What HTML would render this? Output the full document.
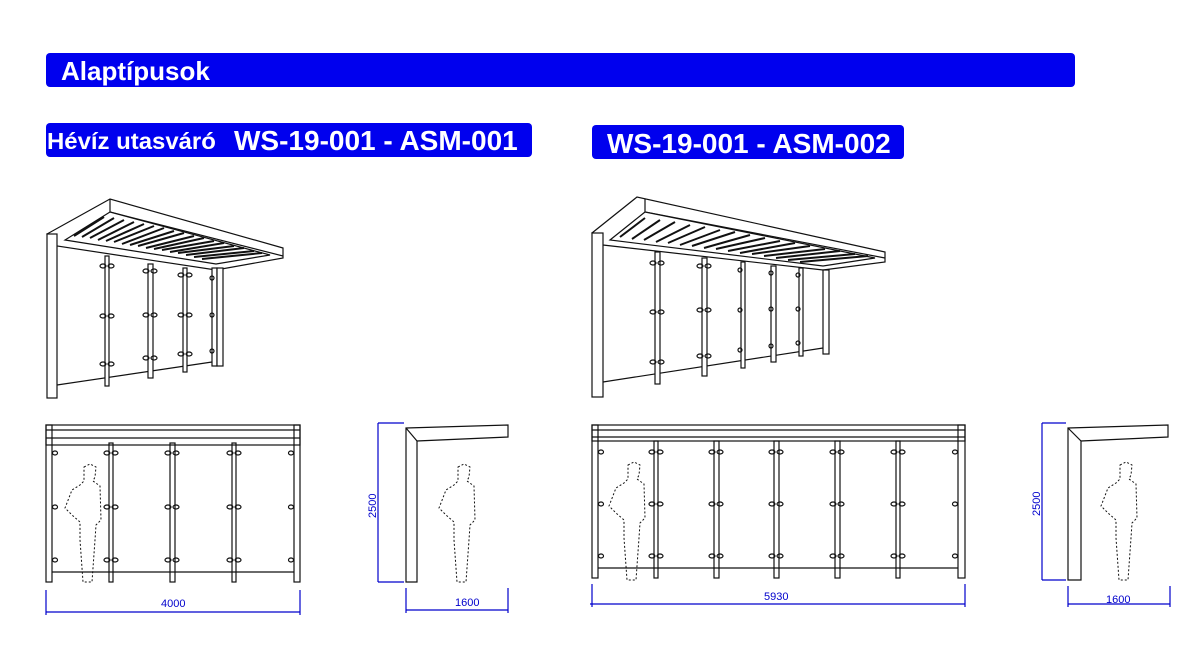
<!DOCTYPE html>
<html><head><meta charset="utf-8"><style>
body{margin:0;background:#fff;width:1198px;height:655px;overflow:hidden;font-family:"Liberation Sans",Arial,sans-serif}
.b{position:absolute;background:#0000ee;color:#fff;font-weight:bold;border-radius:4px;white-space:nowrap}
</style></head><body>
<div class="b" style="left:46px;top:53px;width:1029px;height:34px;font-size:26px;line-height:36px;padding-left:15px;box-sizing:border-box">Alaptípusok</div>
<div class="b" style="left:46px;top:123px;width:486px;height:34px"></div>
<div class="b" style="left:47px;top:123px;font-size:23px;line-height:37px;background:none;transform:scaleX(1.04);transform-origin:left">Hévíz utasváró</div>
<div class="b" style="left:234px;top:122px;font-size:28px;line-height:38px;background:none">WS-19-001 - ASM-001</div>
<div class="b" style="left:592px;top:125px;width:312px;height:34px;font-size:28px;line-height:37px;padding-left:15px;box-sizing:border-box">WS-19-001 - ASM-002</div>
<svg width="1198" height="655" style="position:absolute;left:0;top:0" fill="none" stroke="#111" stroke-width="1.2">
<defs>
<path id="fig" d="M84,467 L90,464 L96,467 L95,477 L93,481 L100,486 L101,520 L96,525 L95,540 L92,582 L83,582 L80,540 L80,522 L72,515 L65,508 L72,490 L80,485 L84,481 Z" stroke-dasharray="2,2" stroke-width="1"/>
<g id="bolt"><ellipse cx="-4" cy="0" rx="3" ry="2"/><ellipse cx="4" cy="0" rx="3" ry="2"/></g>
</defs>
<g>
<polygon points="110,199 47,234 57,246 216,270 283,258 283,248 110,199" fill="#fff"/>
<line x1="110" y1="199" x2="110" y2="212"/><line x1="110" y1="212" x2="283" y2="256"/>
<polygon points="110,212 65,240 216,264 270,255" fill="#fff"/>
<g stroke-width="2">
<line x1="74" y1="236" x2="104" y2="217"/><line x1="82" y1="237" x2="114" y2="218"/><line x1="90" y1="238" x2="124" y2="220"/><line x1="98" y1="240" x2="134" y2="222"/><line x1="106" y1="241" x2="144" y2="224"/><line x1="114" y1="242" x2="154" y2="226"/><line x1="122" y1="244" x2="164" y2="228"/><line x1="130" y1="245" x2="174" y2="231"/><line x1="138" y1="246" x2="184" y2="233"/><line x1="146" y1="248" x2="194" y2="236"/><line x1="154" y1="249" x2="204" y2="238"/><line x1="162" y1="250" x2="214" y2="241"/><line x1="170" y1="252" x2="224" y2="243"/><line x1="178" y1="253" x2="234" y2="246"/><line x1="186" y1="255" x2="244" y2="248"/><line x1="194" y1="257" x2="254" y2="251"/><line x1="202" y1="259" x2="262" y2="253"/>
</g>
<rect x="47" y="234" width="10" height="164" fill="#fff"/>
<line x1="57" y1="385" x2="212" y2="362"/>
<rect x="105" y="256" width="4" height="130" fill="#fff"/><rect x="148" y="264" width="5" height="114" fill="#fff"/><rect x="183" y="268" width="4" height="104" fill="#fff"/><rect x="212" y="268" width="5" height="98" fill="#fff"/>
<rect x="217" y="268" width="6" height="98" fill="#fff"/>
<use href="#bolt" x="107" y="266"/><use href="#bolt" x="107" y="316"/><use href="#bolt" x="107" y="364"/>
<use href="#bolt" x="150" y="271"/><use href="#bolt" x="150" y="315"/><use href="#bolt" x="150" y="358"/>
<use href="#bolt" x="185" y="275"/><use href="#bolt" x="185" y="315"/><use href="#bolt" x="185" y="354"/>
<ellipse cx="212" cy="278" rx="2" ry="2"/><ellipse cx="212" cy="315" rx="2" ry="2"/><ellipse cx="212" cy="351" rx="2" ry="2"/>
</g>
<g>
<polygon points="637,197 592,233 603,245 823,270 885,262 885,252 637,197" fill="#fff"/>
<line x1="645" y1="199" x2="645" y2="212"/><line x1="645" y1="212" x2="885" y2="258"/>
<polygon points="645,212 610,240 823,266 875,258" fill="#fff"/>
<g stroke-width="2">
<line x1="620" y1="237" x2="645" y2="218"/><line x1="632" y1="239" x2="660" y2="220"/><line x1="644" y1="240" x2="675" y2="222"/><line x1="656" y1="242" x2="690" y2="225"/><line x1="668" y1="243" x2="705" y2="227"/><line x1="680" y1="245" x2="720" y2="230"/><line x1="692" y1="246" x2="735" y2="232"/><line x1="704" y1="248" x2="750" y2="235"/><line x1="716" y1="249" x2="765" y2="238"/><line x1="728" y1="251" x2="780" y2="241"/><line x1="740" y1="253" x2="795" y2="243"/><line x1="752" y1="254" x2="810" y2="246"/><line x1="764" y1="256" x2="825" y2="249"/><line x1="776" y1="258" x2="840" y2="251"/><line x1="788" y1="260" x2="855" y2="254"/><line x1="800" y1="262" x2="868" y2="256"/>
</g>
<rect x="592" y="233" width="11" height="164" fill="#fff"/>
<line x1="603" y1="382" x2="823" y2="348"/>
<rect x="655" y="252" width="5" height="132" fill="#fff"/><rect x="702" y="258" width="5" height="118" fill="#fff"/><rect x="741" y="262" width="4" height="106" fill="#fff"/><rect x="771" y="266" width="5" height="96" fill="#fff"/><rect x="799" y="268" width="4" height="88" fill="#fff"/><rect x="823" y="270" width="6" height="84" fill="#fff"/>
<use href="#bolt" x="657" y="263"/><use href="#bolt" x="657" y="312"/><use href="#bolt" x="657" y="362"/>
<use href="#bolt" x="704" y="266"/><use href="#bolt" x="704" y="310"/><use href="#bolt" x="704" y="356"/>
<ellipse cx="740" cy="270" rx="2" ry="2"/><ellipse cx="740" cy="310" rx="2" ry="2"/><ellipse cx="740" cy="350" rx="2" ry="2"/>
<ellipse cx="771" cy="273" rx="2" ry="2"/><ellipse cx="771" cy="309" rx="2" ry="2"/><ellipse cx="771" cy="346" rx="2" ry="2"/>
<ellipse cx="798" cy="275" rx="2" ry="2"/><ellipse cx="798" cy="309" rx="2" ry="2"/><ellipse cx="798" cy="343" rx="2" ry="2"/>
</g>
<g>
<rect x="46" y="425" width="254" height="20"/><line x1="46" y1="430" x2="300" y2="430"/><line x1="46" y1="438" x2="300" y2="438"/>
<rect x="46" y="425" width="6" height="157"/><rect x="294" y="425" width="6" height="157"/>
<rect x="109" y="443" width="4" height="139"/><rect x="170" y="443" width="5" height="139"/><rect x="232" y="443" width="4" height="139"/>
<line x1="52" y1="572" x2="294" y2="572"/>
<g><use href="#bolt" x="111" y="453"/><use href="#bolt" x="111" y="507"/><use href="#bolt" x="111" y="560"/>
<use href="#bolt" x="172" y="453"/><use href="#bolt" x="172" y="507"/><use href="#bolt" x="172" y="560"/>
<use href="#bolt" x="234" y="453"/><use href="#bolt" x="234" y="507"/><use href="#bolt" x="234" y="560"/>
<ellipse cx="55" cy="453" rx="2.5" ry="2"/><ellipse cx="55" cy="507" rx="2.5" ry="2"/><ellipse cx="55" cy="560" rx="2.5" ry="2"/>
<ellipse cx="291" cy="453" rx="2.5" ry="2"/><ellipse cx="291" cy="507" rx="2.5" ry="2"/><ellipse cx="291" cy="560" rx="2.5" ry="2"/></g>
<use href="#fig"/>
<line x1="46" y1="612" x2="300" y2="612" stroke="#00c"/><line x1="46" y1="590" x2="46" y2="615" stroke="#00c"/><line x1="300" y1="590" x2="300" y2="615" stroke="#00c"/>
</g>
<g>
<polygon points="406,428 508,425 508,437 417,441 417,582 406,582" fill="#fff"/><line x1="406" y1="428" x2="417" y2="441"/>
<use href="#fig" x="374" y="0"/>
<line x1="378" y1="423" x2="378" y2="582" stroke="#00c"/><line x1="378" y1="423" x2="404" y2="423" stroke="#00c"/><line x1="378" y1="582" x2="404" y2="582" stroke="#00c"/>
<line x1="406" y1="610" x2="508" y2="610" stroke="#00c"/><line x1="406" y1="588" x2="406" y2="613" stroke="#00c"/><line x1="508" y1="588" x2="508" y2="613" stroke="#00c"/>
</g>
<g>
<rect x="592" y="425" width="373" height="16"/><line x1="592" y1="430" x2="965" y2="430"/><line x1="592" y1="437" x2="965" y2="437"/>
<rect x="592" y="425" width="6" height="153"/><rect x="958" y="425" width="7" height="153"/>
<rect x="654" y="441" width="4" height="137"/><rect x="714" y="441" width="5" height="137"/><rect x="774" y="441" width="5" height="137"/><rect x="835" y="441" width="5" height="137"/><rect x="896" y="441" width="4" height="137"/>
<line x1="598" y1="568" x2="958" y2="568"/>
<g><use href="#bolt" x="656" y="452"/><use href="#bolt" x="656" y="504"/><use href="#bolt" x="656" y="556"/>
<use href="#bolt" x="716" y="452"/><use href="#bolt" x="716" y="504"/><use href="#bolt" x="716" y="556"/>
<use href="#bolt" x="776" y="452"/><use href="#bolt" x="776" y="504"/><use href="#bolt" x="776" y="556"/>
<use href="#bolt" x="837" y="452"/><use href="#bolt" x="837" y="504"/><use href="#bolt" x="837" y="556"/>
<use href="#bolt" x="898" y="452"/><use href="#bolt" x="898" y="504"/><use href="#bolt" x="898" y="556"/>
<ellipse cx="601" cy="452" rx="2.5" ry="2"/><ellipse cx="601" cy="504" rx="2.5" ry="2"/><ellipse cx="601" cy="556" rx="2.5" ry="2"/>
<ellipse cx="955" cy="452" rx="2.5" ry="2"/><ellipse cx="955" cy="504" rx="2.5" ry="2"/><ellipse cx="955" cy="556" rx="2.5" ry="2"/></g>
<use href="#fig" x="544" y="-2"/>
<line x1="590" y1="604" x2="965" y2="604" stroke="#00c"/><line x1="592" y1="584" x2="592" y2="607" stroke="#00c"/><line x1="965" y1="584" x2="965" y2="607" stroke="#00c"/>
</g>
<g>
<polygon points="1068,428 1168,425 1168,437 1081,441 1081,580 1068,580" fill="#fff"/><line x1="1068" y1="428" x2="1081" y2="441"/>
<use href="#fig" x="1036" y="-2"/>
<line x1="1042" y1="423" x2="1042" y2="580" stroke="#00c"/><line x1="1042" y1="423" x2="1066" y2="423" stroke="#00c"/><line x1="1042" y1="580" x2="1066" y2="580" stroke="#00c"/>
<line x1="1068" y1="604" x2="1170" y2="604" stroke="#00c"/><line x1="1068" y1="586" x2="1068" y2="607" stroke="#00c"/><line x1="1170" y1="586" x2="1170" y2="607" stroke="#00c"/>
</g>
<g fill="#00c" stroke="none" font-family="Liberation Sans,sans-serif" font-size="11">
<text x="161" y="607">4000</text><text x="455" y="606">1600</text><text x="764" y="600">5930</text><text x="1106" y="603">1600</text>
<text transform="translate(376,518) rotate(-90)">2500</text><text transform="translate(1040,516) rotate(-90)">2500</text>
</g>
</svg>
</body></html>
